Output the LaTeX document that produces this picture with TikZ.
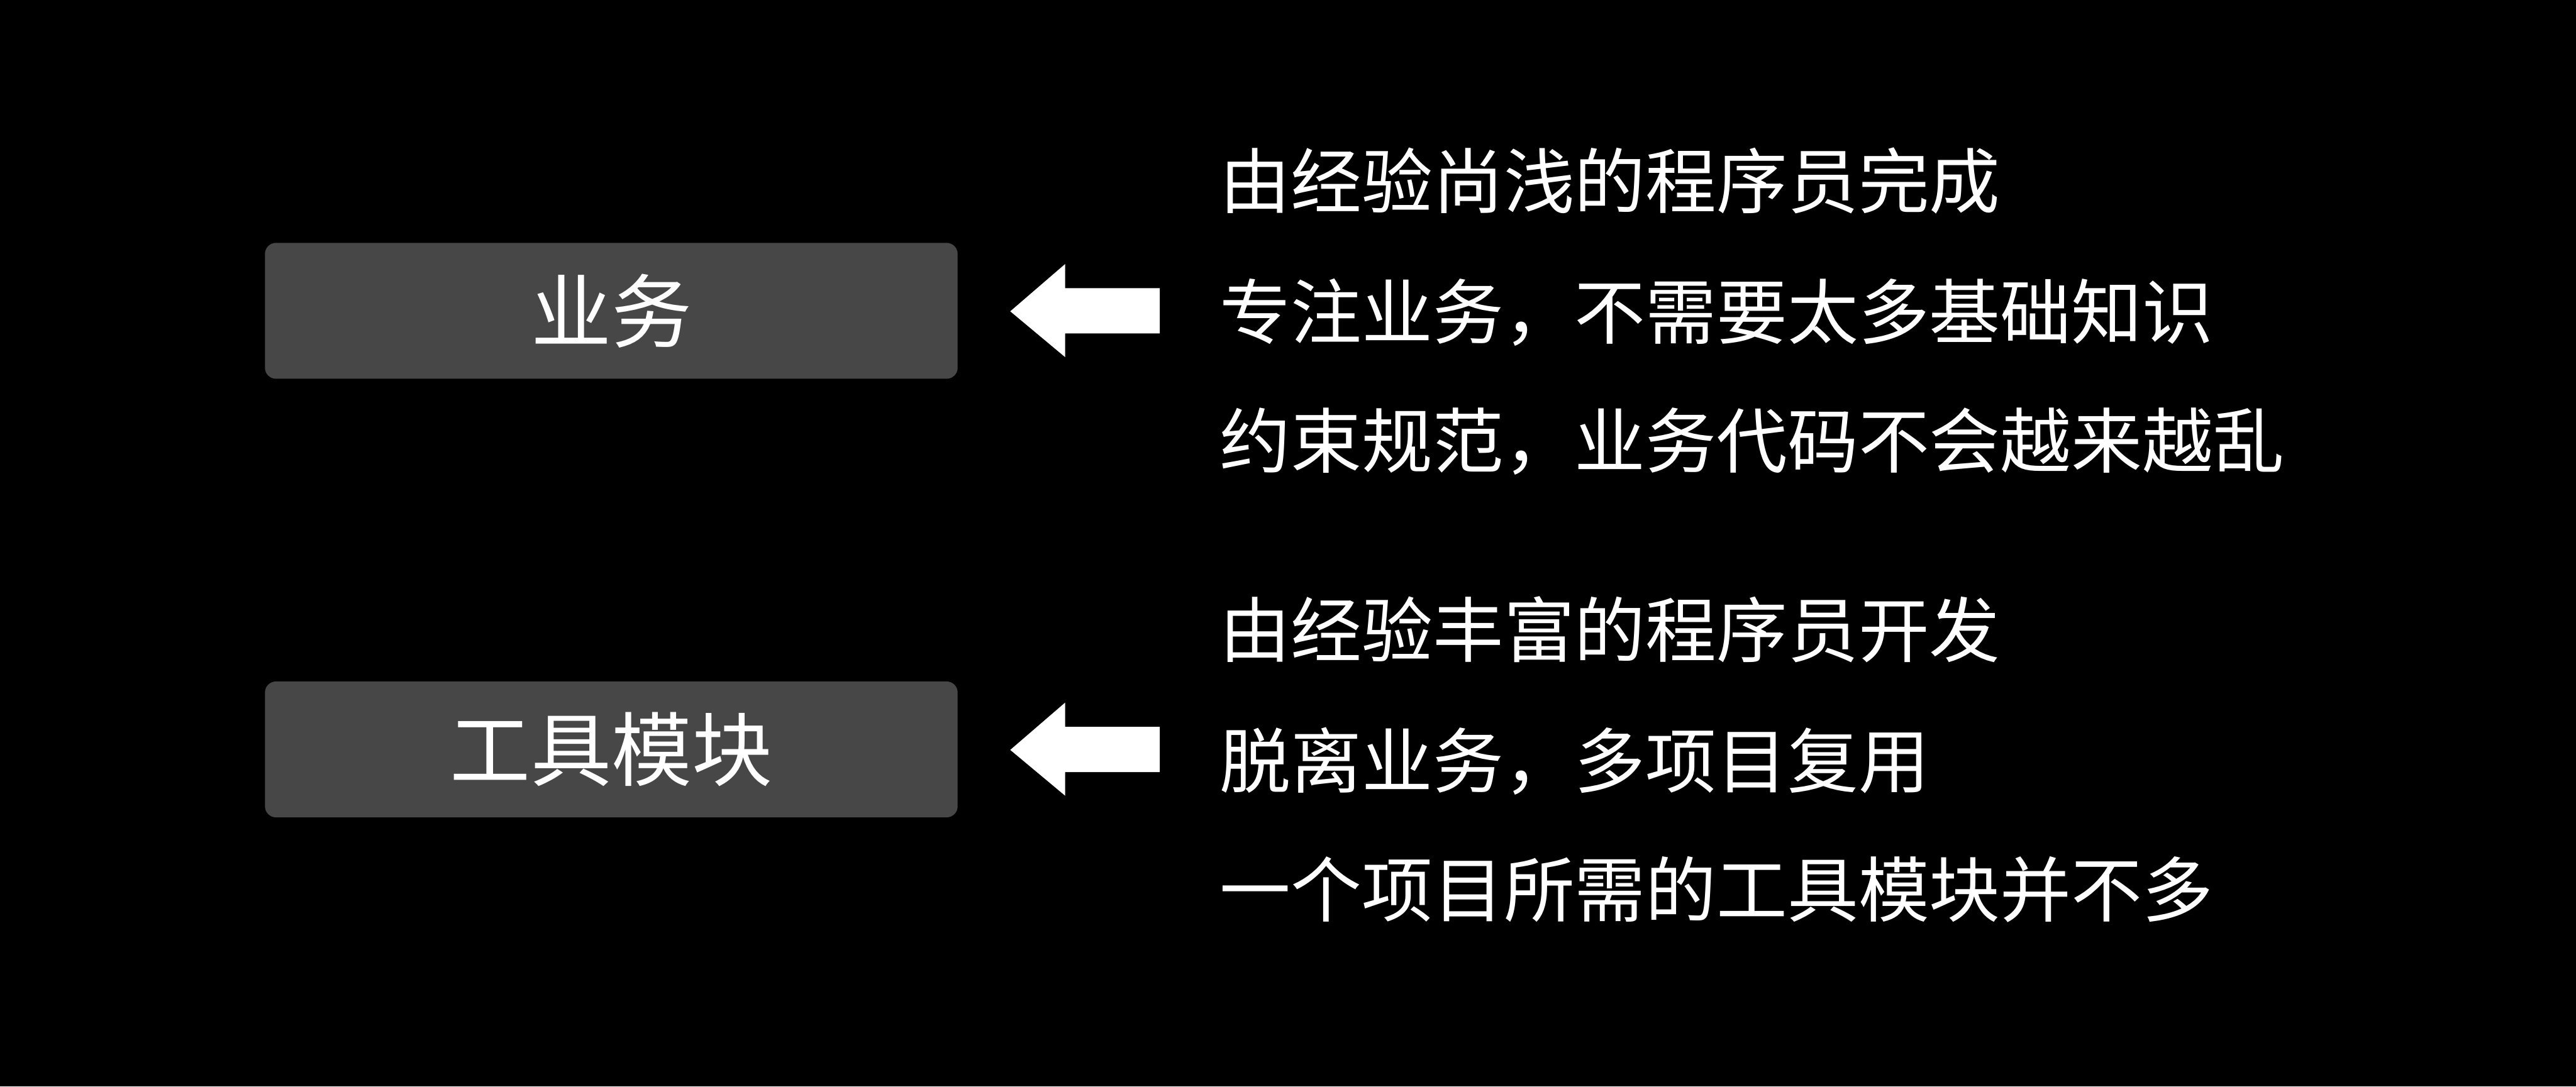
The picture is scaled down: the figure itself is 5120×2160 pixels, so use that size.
\documentclass[tikz,border=0pt]{standalone}
\usepackage{fontspec}
\setmainfont{Noto Sans CJK SC}
\newfontfamily\cjk{Noto Sans CJK SC}
\definecolor{boxgray}{HTML}{474747}
\tikzset{
  labelbox/.style={fill=boxgray, rounded corners=0.22cm, minimum width=13.76cm, minimum height=2.70cm, inner sep=0pt, text=white, font=\cjk\fontsize{45.5pt}{52pt}\selectfont},
  line/.style={anchor=base west, inner sep=0pt, text=white, font=\cjk\fontsize{40.1pt}{46pt}\selectfont},
  blockarrow/.style={fill=white}
}
\begin{document}
\begin{tikzpicture}[x=0.01cm,y=-0.01cm]
\fill[black] (0,0) rectangle (5120,2160);
% boxes
\node[labelbox] (b1) at (1215,618) {业务};
\node[labelbox] (b2) at (1215,1490) {工具模块};
% arrows
\foreach \yy/\nm in {619/a1,1491/a2}{
  \begin{scope}[shift={(0,\yy)}]
    \fill[blockarrow] (2008,0) -- (2117,-94) -- (2117,-46) -- (2305,-46) -- (2305,44) -- (2117,44) -- (2117,91) -- cycle;
  \end{scope}
}
% text lines
\node[line] (t11) at (2424,413) {由经验尚浅的程序员完成};
\node[line] (t12) at (2424,673) {专注业务，不需要太多基础知识};
\node[line] (t13) at (2424,929) {约束规范，业务代码不会越来越乱};
\node[line] (t21) at (2424,1306) {由经验丰富的程序员开发};
\node[line] (t22) at (2424,1566) {脱离业务，多项目复用};
\node[line] (t23) at (2424,1822) {一个项目所需的工具模块并不多};
\end{tikzpicture}
\end{document}
